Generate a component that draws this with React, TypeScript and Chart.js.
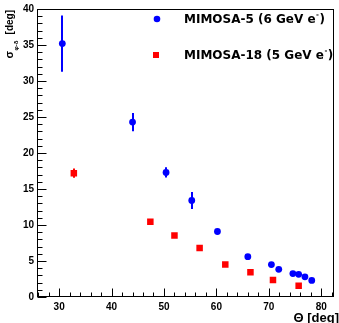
import React, { useEffect, useRef } from "react";
import { Chart, registerables } from "chart.js";

Chart.register(...registerables);

// ---- data ----
const seriesNames = ["MIMOSA-5 (6 GeV e⁻)", "MIMOSA-18 (5 GeV e⁻)"];
const seriesColors = ["#0000ff", "#ff0000"];

const m5Theta = [30.6, 44.0, 50.4, 55.3, 60.2, 66.0, 70.5, 71.9, 74.6, 75.7, 76.9, 78.2];
const m5Sigma = [35.2, 24.3, 17.3, 13.4, 9.1, 5.6, 4.5, 3.85, 3.25, 3.15, 2.8, 2.3];
const m5Err = [3.9, 1.27, 0.72, 1.18, 0, 0, 0, 0, 0, 0, 0, 0];

const m18Theta = [32.8, 47.4, 52.0, 56.8, 61.7, 66.5, 70.8, 75.7];
const m18Sigma = [17.2, 10.45, 8.55, 6.8, 4.5, 3.45, 2.35, 1.55];
const m18Err = [0.65, 0, 0, 0, 0, 0, 0, 0];

const xTickLabels = [30, 40, 50, 60, 70, 80];
const yTickLabels = [0, 5, 10, 15, 20, 25, 30, 35, 40];
const xRange = [25.77, 82.52];
const yRange = [0, 40];
const xMinorStep = 2;
const yMinorStep = 1;

const xTitle = "Θ [deg]";
const yTitleMain = "σ";
const yTitleSub = "φ-δ";
const yTitleUnit = "[deg]";

const LIB = "'Liberation Sans', Arial, sans-serif";
const DEJ = "'DejaVu Sans', sans-serif";

export default function App() {
  const ref = useRef<HTMLCanvasElement>(null);

  useEffect(() => {
    document.body.style.margin = "0";
    const canvas = ref.current!;
    const errs = [m5Err, m18Err];

    const rootPlugin = {
      id: "rootStyle",
      beforeDatasetsDraw(chart: any) {
        const ctx = chart.ctx;
        const xs = chart.scales.x;
        const ys = chart.scales.y;
        ctx.save();
        chart.data.datasets.forEach((ds: any, i: number) => {
          ctx.strokeStyle = seriesColors[i];
          ctx.lineWidth = 2;
          ds.data.forEach((p: any, j: number) => {
            const e = errs[i][j];
            if (!e) return;
            const px = Math.round(xs.getPixelForValue(p.x));
            ctx.beginPath();
            ctx.moveTo(px, ys.getPixelForValue(p.y + e));
            ctx.lineTo(px, ys.getPixelForValue(p.y - e));
            ctx.stroke();
          });
        });
        ctx.restore();
      },
      afterDraw(chart: any) {
        const ctx = chart.ctx;
        const a = chart.chartArea;
        const xs = chart.scales.x;
        const ys = chart.scales.y;
        ctx.save();
        // frame
        ctx.strokeStyle = "#000";
        ctx.lineWidth = 1;
        const L = Math.round(a.left) + 0.5;
        const R = Math.round(a.right) - 0.5;
        const T = Math.round(a.top) + 0.5;
        const B = Math.round(a.bottom) - 0.5;
        ctx.strokeRect(L, T, R - L, B - T);
        // x ticks (inward)
        ctx.beginPath();
        for (let v = Math.ceil(xRange[0] / xMinorStep) * xMinorStep; v <= xRange[1]; v += xMinorStep) {
          const px = Math.round(xs.getPixelForValue(v)) + 0.5;
          const major = v % 10 === 0;
          ctx.moveTo(px, B);
          ctx.lineTo(px, B - (major ? 8 : 4));
        }
        // y ticks (inward)
        for (let v = yRange[0]; v <= yRange[1]; v += yMinorStep) {
          const py = Math.round(ys.getPixelForValue(v)) + 0.5;
          const major = v % 5 === 0;
          ctx.moveTo(L, py);
          ctx.lineTo(L + (major ? 9 : 5), py);
        }
        ctx.stroke();

        ctx.fillStyle = "#000";
        // x title
        ctx.font = `bold 13px ${LIB}`;
        ctx.textAlign = "right";
        ctx.textBaseline = "alphabetic";
        ctx.fillText(xTitle, 339, 322);

        // y title (rotated)
        ctx.save();
        ctx.translate(13, 58.5);
        ctx.rotate(-Math.PI / 2);
        ctx.textAlign = "left";
        ctx.font = `bold 11px ${LIB}`;
        ctx.fillText(yTitleMain, 0, 0);
        const sw = ctx.measureText(yTitleMain).width;
        ctx.font = `bold 6px ${LIB}`;
        ctx.fillText(yTitleSub, sw + 0.5, 4.5);
        ctx.font = `bold 10px ${LIB}`;
        ctx.textAlign = "right";
        ctx.fillText(yTitleUnit, 48.5, 0);
        ctx.restore();

        // legend
        const rows = [19, 55];
        rows.forEach((yy, i) => {
          ctx.fillStyle = seriesColors[i];
          if (i === 0) {
            ctx.beginPath();
            ctx.arc(157, yy, 3.3, 0, Math.PI * 2);
            ctx.fill();
          } else {
            ctx.fillRect(153, yy - 3, 6, 6);
          }
          ctx.fillStyle = "#000";
          ctx.textAlign = "left";
          const [before, after] = seriesNames[i].split("⁻");
          const base = yy + 4;
          ctx.font = `bold 12px ${DEJ}`;
          ctx.fillText(before, 184, base);
          let w = ctx.measureText(before).width;
          ctx.font = `bold 7px ${DEJ}`;
          ctx.fillText("-", 184 + w + 0.5, base - 6);
          const w2 = ctx.measureText("-").width;
          ctx.font = `bold 12px ${DEJ}`;
          ctx.fillText(after, 184 + w + w2 + 1, base);
        });
        ctx.restore();
      },
    };

    const chart = new Chart(canvas, {
      type: "scatter",
      data: {
        datasets: [
          {
            label: seriesNames[0],
            data: m5Theta.map((x, i) => ({ x, y: m5Sigma[i] })),
            pointStyle: "circle",
            pointRadius: 3.4,
            pointBackgroundColor: seriesColors[0],
            pointBorderWidth: 0,
            borderColor: seriesColors[0],
            backgroundColor: seriesColors[0],
          },
          {
            label: seriesNames[1],
            data: m18Theta.map((x, i) => ({ x, y: m18Sigma[i] })),
            pointStyle: "rect",
            pointRadius: 4.6,
            pointBackgroundColor: seriesColors[1],
            pointBorderWidth: 0,
            borderColor: seriesColors[1],
            backgroundColor: seriesColors[1],
          },
        ],
      },
      options: {
        animation: false,
        responsive: false,
        maintainAspectRatio: false,
        layout: { padding: { top: 9, right: 3, left: 0, bottom: 0 } },
        plugins: {
          legend: { display: false },
          tooltip: { enabled: false },
          title: { display: false },
        },
        scales: {
          x: {
            type: "linear",
            min: xRange[0],
            max: xRange[1],
            grid: { display: false, drawTicks: false },
            border: { display: false },
            ticks: {
              color: "#000",
              font: { family: LIB, size: 10, weight: "bold" },
              padding: 4,
              maxRotation: 0,
              autoSkip: false,
            },
            afterBuildTicks: (s: any) => {
              s.ticks = xTickLabels.map((v) => ({ value: v }));
            },
            afterFit: (s: any) => {
              s.height = 26;
            },
          },
          y: {
            type: "linear",
            min: yRange[0],
            max: yRange[1],
            grid: { display: false, drawTicks: false },
            border: { display: false },
            ticks: {
              color: "#000",
              font: { family: LIB, size: 10, weight: "bold" },
              padding: 3,
              autoSkip: false,
            },
            afterBuildTicks: (s: any) => {
              s.ticks = yTickLabels.map((v) => ({ value: v }));
            },
            afterFit: (s: any) => {
              s.width = 37;
            },
          },
        },
      },
      plugins: [rootPlugin],
    } as any);

    return () => chart.destroy();
  }, []);

  return (
    <canvas
      ref={ref}
      width={339}
      height={323}
      style={{ display: "block", width: 339, height: 323 }}
    />
  );
}
